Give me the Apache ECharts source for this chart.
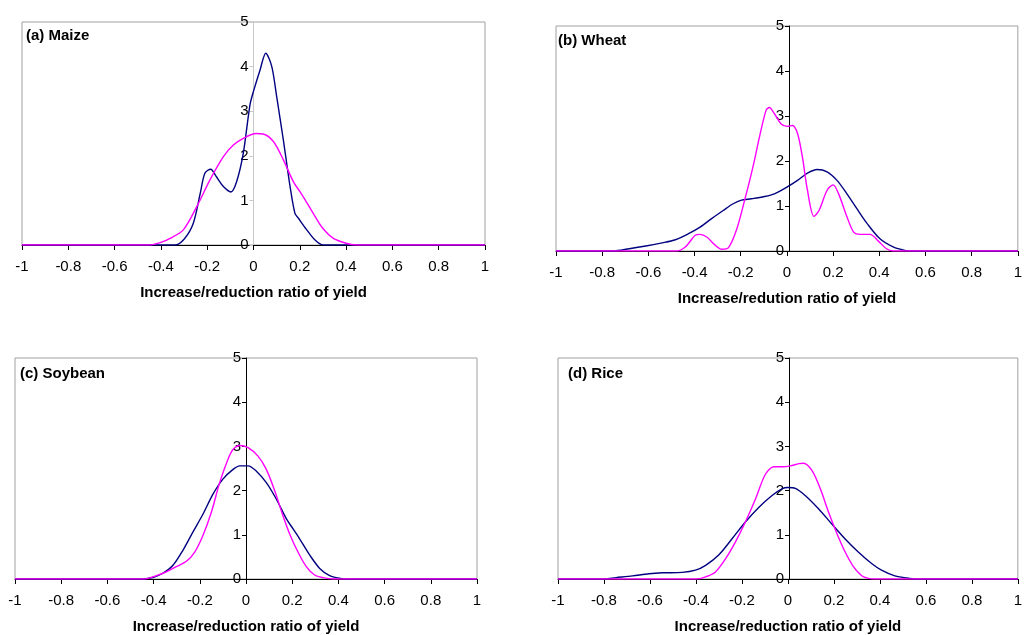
<!DOCTYPE html>
<html>
<head>
<meta charset="utf-8">
<script src="https://cdn.jsdelivr.net/npm/echarts@6/dist/echarts.min.js"></script>
<style>
html,body{margin:0;padding:0;background:#fff;}
#chart{width:1025px;height:635px;}
</style>
</head>
<body>
<div id="chart"></div>
<script>
// Panel titles and axis names
const panelTitles = ['(a) Maize', '(b) Wheat', '(c) Soybean', '(d) Rice'];
const axisNames = ['Increase/reduction ratio of yield', 'Increase/redution ratio of yield',
                   'Increase/reduction ratio of yield', 'Increase/reduction ratio of yield'];

// (a) Maize
const maizeBlueX = [-1, -0.34, -0.3, -0.26, -0.23, -0.21, -0.185, -0.16, -0.13, -0.098, -0.073, -0.044, -0.015, 0.003, 0.028, 0.053, 0.079, 0.1, 0.129, 0.158, 0.179, 0.194, 0.23, 0.266, 0.3, 1];
const maizeBlueY = [0, 0, 0.13, 0.49, 1.16, 1.61, 1.70, 1.53, 1.31, 1.19, 1.42, 2.06, 3.15, 3.5, 3.92, 4.30, 4.0, 3.33, 2.35, 1.31, 0.71, 0.60, 0.34, 0.11, 0, 0];
const maizePinkX = [-1, -0.45, -0.4, -0.36, -0.303, -0.245, -0.188, -0.13, -0.087, -0.044, 0.011, 0.042, 0.086, 0.129, 0.172, 0.2, 0.23, 0.258, 0.3, 0.345, 0.4, 0.44, 1];
const maizePinkY = [0, 0, 0.06, 0.15, 0.34, 0.86, 1.46, 1.98, 2.24, 2.39, 2.50, 2.49, 2.32, 1.91, 1.42, 1.2, 0.95, 0.71, 0.37, 0.15, 0.04, 0, 0];

// (b) Wheat
const wheatBlueX = [-1, -0.754, -0.683, -0.611, -0.54, -0.483, -0.426, -0.376, -0.326, -0.276, -0.233, -0.197, -0.154, -0.097, -0.054, 0, 0.046, 0.089, 0.131, 0.174, 0.217, 0.26, 0.303, 0.346, 0.403, 0.46, 0.51, 0.546, 1];
const wheatBlueY = [0, 0, 0.05, 0.11, 0.18, 0.25, 0.385, 0.53, 0.72, 0.90, 1.05, 1.13, 1.16, 1.21, 1.27, 1.42, 1.57, 1.73, 1.81, 1.76, 1.57, 1.27, 0.94, 0.62, 0.27, 0.09, 0.015, 0, 0];
const wheatPinkX = [-1, -0.48, -0.44, -0.397, -0.376, -0.347, -0.311, -0.283, -0.254, -0.219, -0.183, -0.147, -0.119, -0.09, -0.076, -0.054, -0.026, 0, 0.024, 0.046, 0.067, 0.089, 0.117, 0.139, 0.174, 0.2, 0.224, 0.26, 0.289, 0.317, 0.36, 0.396, 0.431, 0.46, 1];
const wheatPinkY = [0, 0, 0.09, 0.35, 0.37, 0.31, 0.13, 0.04, 0.07, 0.46, 1.13, 1.87, 2.53, 3.13, 3.19, 3.05, 2.83, 2.77, 2.79, 2.61, 2.09, 1.35, 0.77, 0.90, 1.35, 1.47, 1.27, 0.76, 0.42, 0.37, 0.37, 0.22, 0.05, 0, 0];

// (c) Soybean
const soyBlueX = [-1, -0.446, -0.40, -0.36, -0.316, -0.273, -0.23, -0.186, -0.143, -0.1, -0.056, -0.027, 0.009, 0.045, 0.088, 0.131, 0.175, 0.203, 0.232, 0.276, 0.319, 0.362, 0.39, 0.434, 1];
const soyBlueY = [0, 0, 0.04, 0.13, 0.31, 0.65, 1.06, 1.47, 1.92, 2.26, 2.48, 2.56, 2.56, 2.44, 2.18, 1.81, 1.36, 1.14, 0.91, 0.54, 0.24, 0.075, 0.03, 0, 0];
const soyPinkX = [-1, -0.44, -0.388, -0.345, -0.302, -0.258, -0.222, -0.186, -0.15, -0.114, -0.078, -0.056, -0.027, 0.009, 0.052, 0.088, 0.124, 0.16, 0.189, 0.225, 0.261, 0.297, 0.333, 0.377, 1];
const soyPinkY = [0, 0, 0.075, 0.16, 0.28, 0.40, 0.61, 0.99, 1.51, 2.18, 2.71, 2.93, 3.02, 2.97, 2.78, 2.48, 2.0, 1.43, 1.02, 0.61, 0.28, 0.09, 0.03, 0, 0];

// (d) Rice
const riceBlueX = [-1, -0.8, -0.748, -0.676, -0.604, -0.546, -0.46, -0.402, -0.358, -0.3, -0.243, -0.185, -0.127, -0.069, -0.026, 0, 0.032, 0.075, 0.133, 0.19, 0.248, 0.306, 0.364, 0.407, 0.465, 0.508, 0.558, 1];
const riceBlueY = [0, 0, 0.03, 0.07, 0.12, 0.14, 0.15, 0.20, 0.31, 0.55, 0.91, 1.29, 1.62, 1.89, 2.04, 2.07, 2.05, 1.89, 1.59, 1.25, 0.91, 0.61, 0.35, 0.20, 0.07, 0.03, 0, 0];
const ricePinkX = [-1, -0.40, -0.358, -0.315, -0.271, -0.228, -0.185, -0.141, -0.098, -0.061, -0.025, 0.011, 0.047, 0.068, 0.105, 0.141, 0.177, 0.213, 0.249, 0.285, 0.321, 0.35, 0.378, 1];
const ricePinkY = [0, 0, 0.05, 0.16, 0.46, 0.84, 1.29, 1.81, 2.37, 2.54, 2.54, 2.56, 2.61, 2.62, 2.45, 2.04, 1.51, 1.03, 0.61, 0.28, 0.075, 0.015, 0, 0];

const panels = [
  {bx: maizeBlueX, by: maizeBlueY, px: maizePinkX, py: maizePinkY},
  {bx: wheatBlueX, by: wheatBlueY, px: wheatPinkX, py: wheatPinkY},
  {bx: soyBlueX, by: soyBlueY, px: soyPinkX, py: soyPinkY},
  {bx: riceBlueX, by: riceBlueY, px: ricePinkX, py: ricePinkY}
];

const W = 1025;
const FONT = '"Liberation Sans", Arial, sans-serif';
const gridPos = [
  {left: 22, right: 540, top: 22, bottom: 390},
  {left: 556, right: 3, top: 26, bottom: 384},
  {left: 15, right: 548, top: 358, bottom: 54},
  {left: 558, right: 5, top: 358, bottom: 54}
];
const titlePos = [
  {left: 26, top: 28}, {left: 558, top: 33}, {left: 20, top: 366}, {left: 568, top: 366}
];

const grids = [], xAxes = [], yAxes = [], series = [], titles = [];
panels.forEach((p, i) => {
  const g = gridPos[i];
  const halfW = (W - g.left - g.right) / 2; // y axis sits at x = 0 (centre of the -1..1 range)
  grids.push(Object.assign({show: true, borderColor: '#a0a0a0', borderWidth: 1, backgroundColor: 'transparent'}, g));
  titles.push({text: panelTitles[i], left: titlePos[i].left, top: titlePos[i].top, padding: 0,
    textStyle: {fontFamily: FONT, fontSize: 15, fontWeight: 'bold', color: '#000'}});
  xAxes.push({type: 'value', gridIndex: i, min: -1, max: 1, interval: 0.2,
    name: axisNames[i], nameLocation: 'middle', nameGap: 40,
    nameTextStyle: {fontFamily: FONT, fontSize: 15, fontWeight: 'bold', color: '#000'},
    axisLine: {show: true, onZero: false, lineStyle: {color: '#000', width: 1}},
    axisTick: {show: true, length: 5, lineStyle: {color: '#000'}},
    axisLabel: {fontFamily: FONT, fontSize: 15, color: '#000', margin: 14},
    splitLine: {show: false}});
  const yc = i === 0 ? '#c8c8c8' : '#000';
  yAxes.push({type: 'value', gridIndex: i, min: 0, max: 5, interval: 1, position: 'left', offset: -halfW,
    axisLine: {show: true, onZero: false, lineStyle: {color: yc, width: 1}},
    axisTick: {show: true, length: 4, lineStyle: {color: yc}},
    axisLabel: {fontFamily: FONT, fontSize: 15, color: '#000', margin: 5},
    splitLine: {show: false}});
  series.push({type: 'line', name: 'Series 1', xAxisIndex: i, yAxisIndex: i, showSymbol: false, smooth: 0.3,
    data: p.bx.map((x, k) => [x, p.by[k]]), lineStyle: {color: '#000080', width: 1.4}, itemStyle: {color: '#000080'}, z: 2});
  series.push({type: 'line', name: 'Series 2', xAxisIndex: i, yAxisIndex: i, showSymbol: false, smooth: 0.3,
    data: p.px.map((x, k) => [x, p.py[k]]), lineStyle: {color: '#ff00ff', width: 1.4}, itemStyle: {color: '#ff00ff'}, z: 3});
});

const chart = echarts.init(document.getElementById('chart'), null, {renderer: 'canvas'});
chart.setOption({
  animation: false,
  backgroundColor: '#fff',
  title: titles,
  grid: grids,
  xAxis: xAxes,
  yAxis: yAxes,
  series: series
});
</script>
</body>
</html>
